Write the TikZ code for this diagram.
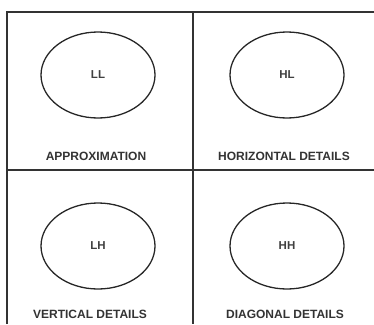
\documentclass[tikz,border=0pt]{standalone}
\usepackage{fontspec}
\setmainfont{Liberation Sans}
\usetikzlibrary{shapes.geometric}
\begin{document}
\begin{tikzpicture}[x=1pt, y=-1pt, font=\fontsize{12}{14}\selectfont\bfseries,
	band/.style={ellipse, draw=black!85, line width=1.3pt, minimum width=114pt,
		minimum height=86pt, font=\fontsize{11.5}{13}\selectfont\bfseries, text=black!75},
	caption/.style={text=black!80},
	frame/.style={draw=black!80, line width=1.8pt}]
	\useasboundingbox (0,0) rectangle (374,324);
	%grid
	\draw[frame] (7,324) -- (7,12) -- (374,12);
	\draw[frame] (193,12) -- (193,324);
	\draw[frame] (7,170) -- (374,170);
	%subbands
	\foreach \name/\x/\y in {LL/98/75, HL/287/75, LH/98/246, HH/287/246}
	\node[band] (\name) at (\x,\y) {\name};
	%labels
	\node[caption] (approx) at (96,156) {APPROXIMATION};
	\node[caption] (horiz) at (284,156) {HORIZONTAL DETAILS};
	\node[caption] (vert) at (90,314) {VERTICAL DETAILS};
	\node[caption] (diag) at (285,314) {DIAGONAL DETAILS};
\end{tikzpicture}
\end{document}
